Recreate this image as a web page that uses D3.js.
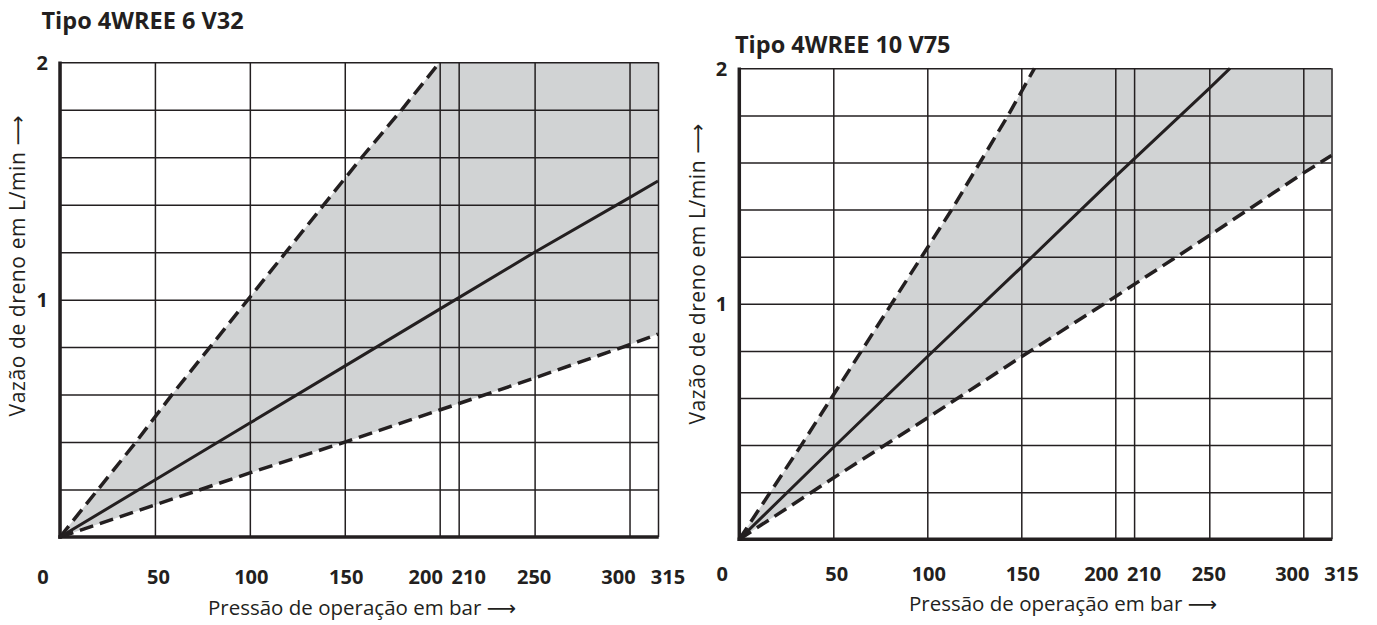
<!DOCTYPE html>
<html>
<head>
<meta charset="utf-8">
<script src="https://cdn.jsdelivr.net/npm/d3@7"></script>
<style>
  html, body { margin: 0; padding: 0; background: #ffffff; }
  svg { display: block; }
  text { font-family: "Open Sans", "Noto Sans", "DejaVu Sans", sans-serif; fill: #231f20; }
</style>
</head>
<body>
<svg id="chart" width="1377" height="625"></svg>
<script>
// ---------------- data ----------------
const pressureTicks = [0, 50, 100, 150, 200, 210, 250, 300, 315];
const flowGrid = [0.2, 0.4, 0.6, 0.8, 1.0, 1.2, 1.4, 1.6, 1.8, 2.0];
const flowLabels = [1, 2];
const titles = ["Tipo 4WREE 6 V32", "Tipo 4WREE 10 V75"];
const xTitle = "Pressão de operação em bar \u27F6";
const yTitle = "Vazão de dreno em L/min \u27F6";

// 4WREE 6 V32
const upperP6 = [0, 20, 40, 59, 79, 99, 119, 139, 159, 180, 200];
const upperQ6 = [0, 0.2, 0.4, 0.6, 0.8, 1.0, 1.2, 1.4, 1.6, 1.8, 2.0];
const midP6 = [0, 50, 100, 150, 200, 250, 300, 315];
const midQ6 = [0, 0.24, 0.48, 0.72, 0.96, 1.2, 1.43, 1.5];
const lowP6 = [0, 50, 100, 150, 200, 250, 300, 315];
const lowQ6 = [0, 0.135, 0.27, 0.4, 0.535, 0.67, 0.81, 0.855];

// 4WREE 10 V75
const upperP10 = [0, 16.5, 33, 49, 65, 81, 97, 113, 128, 143, 157];
const upperQ10 = [0, 0.2, 0.4, 0.6, 0.8, 1.0, 1.2, 1.4, 1.6, 1.8, 2.0];
const midP10 = [0, 50, 100, 150, 200, 250, 261];
const midQ10 = [0, 0.39, 0.775, 1.155, 1.54, 1.915, 2.0];
const lowP10 = [0, 50, 100, 150, 200, 250, 300, 315];
const lowQ10 = [0, 0.26, 0.515, 0.775, 1.03, 1.29, 1.555, 1.63];

// ---------------- layout / style ----------------
const ink = "#231f20";
const bandFill = "#d1d3d4";
const labelShift = {0: -17.5, 50: 3, 100: 1, 150: 1, 200: -14.5, 210: 9.5, 250: -1, 300: -11.5, 315: 9.5};

const panels = [
  { title: titles[0], left: 60, right: 658, top: 62.3, bottom: 537, tickPad: 33,
    titleX: 41.5, titleY: 29, xTitleX: 362, xTitleY: 607, yTitleX: 17, yTitleShift: -34,
    upper: [upperP6, upperQ6], mid: [midP6, midQ6], low: [lowP6, lowQ6] },
  { title: titles[1], left: 739.3, right: 1331.5, top: 68.3, bottom: 539.3, tickPad: 28,
    titleX: 735, titleY: 53, xTitleX: 1063, xTitleY: 603, yTitleX: 697, yTitleShift: -30,
    upper: [upperP10, upperQ10], mid: [midP10, midQ10], low: [lowP10, lowQ10] }
];

const svg = d3.select("#chart");

panels.forEach(p => {
  const x = d3.scaleLinear().domain([0, 315]).range([p.left, p.right]);
  const y = d3.scaleLinear().domain([0, 2]).range([p.bottom, p.top]);
  const g = svg.append("g");
  const pairs = s => s[0].map((v, i) => [v, s[1][i]]);
  const upper = pairs(p.upper), mid = pairs(p.mid), low = pairs(p.low);
  const line = d3.line().x(d => x(d[0])).y(d => y(d[1]));

  // shaded band
  const band = upper.concat([[315, 2]], low.slice().reverse());
  g.append("path").attr("d", line(band) + "Z").attr("fill", bandFill).attr("stroke", "none");

  // vertical grid + x tick labels
  const xAxis = g.append("g")
    .attr("transform", `translate(0,${y(0)})`)
    .call(d3.axisBottom(x).tickValues(pressureTicks)
      .tickSize(-(y(0) - y(2))).tickPadding(p.tickPad).tickFormat(d => d));
  xAxis.select(".domain").remove();
  xAxis.selectAll(".tick line").attr("stroke", ink).attr("stroke-width", 1.5);
  xAxis.selectAll(".tick text")
    .attr("dx", d => labelShift[d])
    .style("font-size", "20px").style("font-weight", "700").attr("fill", ink);

  // horizontal grid + y tick labels
  const yAxis = g.append("g")
    .attr("transform", `translate(${x(0)},0)`)
    .call(d3.axisLeft(y).tickValues(flowGrid)
      .tickSize(-(x(315) - x(0))).tickPadding(12)
      .tickFormat(d => flowLabels.some(v => Math.abs(v - d) < 1e-9) ? d3.format("d")(d) : ""));
  yAxis.select(".domain").remove();
  yAxis.selectAll(".tick line").attr("stroke", ink).attr("stroke-width", 1.5);
  yAxis.selectAll(".tick text")
    .attr("dy", "0.34em")
    .style("font-size", "20px").style("font-weight", "700").attr("fill", ink);

  // thick left and bottom axes
  g.append("line").attr("x1", x(0)).attr("x2", x(0)).attr("y1", y(2) - 0.75).attr("y2", y(0) + 1.75)
    .attr("stroke", ink).attr("stroke-width", 3.5);
  g.append("line").attr("x1", x(0) - 1.75).attr("x2", x(315) + 0.75).attr("y1", y(0)).attr("y2", y(0))
    .attr("stroke", ink).attr("stroke-width", 3.5);

  // curves
  g.append("path").attr("d", line(upper)).attr("fill", "none").attr("stroke", ink)
    .attr("stroke-width", 3.5).attr("stroke-dasharray", "14,7");
  g.append("path").attr("d", line(low)).attr("fill", "none").attr("stroke", ink)
    .attr("stroke-width", 3.5).attr("stroke-dasharray", "14,7");
  g.append("path").attr("d", line(mid)).attr("fill", "none").attr("stroke", ink)
    .attr("stroke-width", 3);

  // titles
  g.append("text").attr("x", p.titleX).attr("y", p.titleY)
    .style("font-size", "23.5px").style("font-weight", "700").text(p.title);
  g.append("text").attr("x", p.xTitleX).attr("y", p.xTitleY)
    .attr("text-anchor", "middle").attr("dominant-baseline", "central")
    .style("font-size", "20.5px").text(xTitle);
  const cy = (y(0) + y(2)) / 2 + p.yTitleShift;
  g.append("text").attr("transform", `translate(${p.yTitleX},${cy}) rotate(-90)`)
    .attr("text-anchor", "middle").attr("dominant-baseline", "central")
    .style("font-size", "21px").style("letter-spacing", "0.6px").text(yTitle);
});
</script>
</body>
</html>
